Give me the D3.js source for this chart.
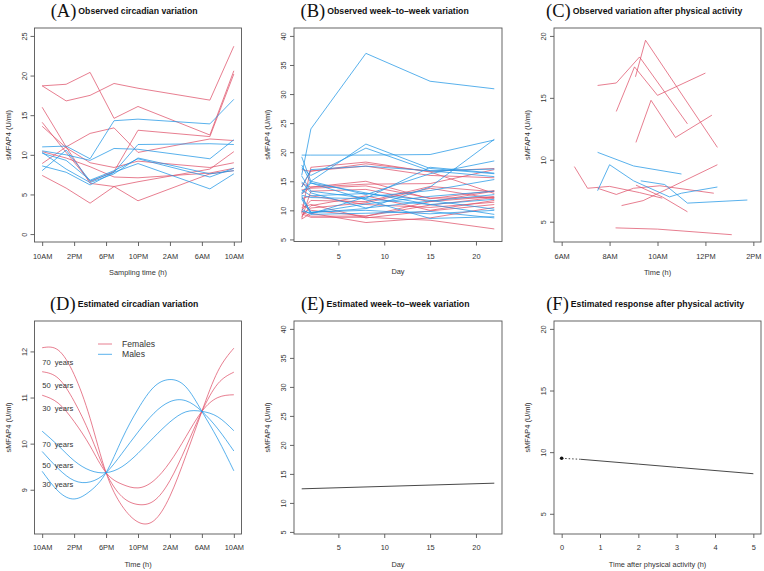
<!DOCTYPE html>
<html><head><meta charset="utf-8">
<script src="https://cdn.jsdelivr.net/npm/d3@7"></script>
<style>
body{margin:0;background:#fff}
text{font-family:"Liberation Sans",Arial,Helvetica,sans-serif}
</style></head><body>
<svg id="c" width="764" height="571" xmlns="http://www.w3.org/2000/svg"></svg>
<script>
// ---------------- DATA ----------------
const RED = "#DF536B", BLUE = "#2297E6";

// Panel A: observed circadian variation (hours after 10AM)
const aTimes = [0, 3, 6, 9, 12, 21, 24];
const aTickHours = [0, 4, 8, 12, 16, 20, 24];
const aTickLabels = ["10AM", "2PM", "6PM", "10PM", "2AM", "6AM", "10AM"];
const aFemales = [
  [18.7, 18.9, 20.4, 14.6, 16.1, 12.5, 20.6],
  [18.7, 16.8, 17.5, 19.0, 18.4, 16.9, 23.7],
  [16.0, 11.0, 6.4, 6.0, 6.6, 8.2, 10.4],
  [14.1, 10.3, 6.6, 7.9, 13.1, 12.3, 20.2],
  [13.6, 10.9, 9.0, 8.4, 9.2, 8.4, 9.0],
  [10.4, 9.6, 8.5, 7.2, 7.1, 7.7, 8.3],
  [8.9, 11.0, 12.7, 13.4, 10.3, 12.0, 11.8],
  [7.4, 5.8, 3.9, 6.0, 4.2, 7.6, 8.0]
];
const aMales = [
  [11.0, 11.1, 9.5, 14.3, 14.5, 13.9, 17.0],
  [10.5, 10.0, 9.3, 10.8, 10.7, 9.5, 11.9],
  [8.0, 10.6, 6.7, 7.8, 11.3, 11.4, 11.3],
  [10.2, 9.3, 6.8, 8.0, 9.5, 7.2, 8.3],
  [8.6, 7.8, 6.2, 7.8, 8.9, 5.7, 7.6],
  [10.3, 8.2, 6.5, 7.6, 9.6, 7.6, 8.0]
];

// Panel B: observed week-to-week variation
const bDays = [1, 2, 8, 15, 22];
const bFemales = [
  [9.5, 17.4, 18.3, 16.6, 12.9],
  [14.0, 16.8, 17.6, 16.0, 15.6],
  [12.8, 14.0, 15.0, 12.0, 13.4],
  [8.6, 13.3, 13.6, 11.5, 12.4],
  [9.4, 8.8, 8.8, 8.3, 6.8],
  [8.5, 9.5, 7.9, 8.7, 10.5],
  [11.0, 10.0, 9.0, 11.5, 13.3],
  [10.0, 11.7, 11.5, 14.1, 13.2],
  [13.5, 13.8, 14.2, 12.1, 12.2],
  [9.8, 9.0, 9.0, 10.9, 12.2],
  [12.0, 12.5, 11.0, 10.5, 11.4],
  [8.9, 10.8, 12.5, 10.0, 11.7],
  [17.0, 16.7, 18.0, 16.7, 17.2],
  [9.2, 10.4, 11.3, 13.8, 12.0],
  [10.5, 11.0, 8.7, 9.9, 11.0],
  [14.6, 14.0, 14.5, 14.6, 17.0]
];
const bMales = [
  [16.0, 24.0, 37.0, 32.2, 30.9],
  [19.5, 19.5, 19.5, 19.6, 22.1],
  [19.2, 15.0, 21.4, 17.2, 16.3],
  [17.3, 16.0, 20.7, 16.8, 15.8],
  [12.5, 9.6, 10.3, 14.0, 22.2],
  [14.0, 17.0, 17.6, 16.8, 17.1],
  [13.0, 15.0, 12.7, 16.3, 18.5],
  [12.8, 14.7, 11.8, 8.6, 8.9],
  [11.9, 9.4, 12.3, 13.4, 15.3],
  [12.2, 9.7, 10.0, 9.4, 10.0],
  [14.9, 13.0, 10.4, 11.6, 12.7],
  [10.2, 9.3, 9.5, 9.8, 8.7],
  [13.5, 12.5, 12.9, 11.7, 10.2],
  [17.8, 14.7, 13.0, 11.0, 9.3],
  [9.8, 9.6, 11.1, 12.4, 13.3],
  [15.9, 13.3, 12.1, 17.4, 16.4],
  [12.6, 12.2, 12.0, 11.0, 11.9]
];

// Panel C: observed variation after physical activity ([clock hour, value])
const cTickHours = [6, 8, 10, 12, 14];
const cTickLabels = ["6AM", "8AM", "10AM", "12PM", "2PM"];
const cFemales = [
  [[7.5, 16.0], [8.28, 16.2], [9.25, 18.3], [11.25, 12.9]],
  [[8.28, 13.9], [9.04, 17.5], [10.0, 15.2], [12.0, 17.0]],
  [[9.08, 16.7], [9.5, 19.65], [12.5, 11.0]],
  [[9.1, 11.4], [9.73, 14.8], [10.75, 11.8], [12.27, 13.6]],
  [[6.53, 9.45], [7.08, 7.7], [8.0, 7.85], [9.25, 7.35], [10.2, 6.9]],
  [[7.5, 7.7], [8.28, 7.2], [9.0, 7.7], [10.1, 7.9], [12.35, 7.3]],
  [[8.5, 6.3], [9.4, 6.7], [12.5, 9.6]],
  [[9.1, 7.95], [10.2, 7.0], [11.25, 5.8]],
  [[8.25, 4.5], [10.0, 4.4], [13.1, 3.95]]
];
const cMales = [
  [[7.5, 10.6], [9.0, 9.5], [11.0, 8.85]],
  [[7.5, 7.5], [8.0, 9.6], [9.0, 8.3], [10.5, 7.0], [11.0, 7.3], [12.5, 7.8]],
  [[9.3, 8.3], [10.3, 8.0], [11.25, 6.5], [13.75, 6.75]]
];

// Panel D: estimated circadian variation (hours after 10AM)
const dHours = [0, 2, 4, 6, 8, 10, 12, 14, 16, 18, 20, 22, 24];
const dFemale30 = [11.05, 10.88, 10.48, 9.95, 9.37, 9.12, 9.04, 9.2, 9.6, 10.15, 10.70, 11.0, 11.06];
const dFemale50 = [11.56, 11.42, 10.92, 10.2, 9.37, 8.85, 8.68, 8.76, 9.2, 9.92, 10.70, 11.3, 11.55];
const dFemale70 = [12.08, 12.03, 11.5, 10.55, 9.37, 8.65, 8.3, 8.33, 8.86, 9.74, 10.70, 11.57, 12.07];
const dMale30 = [9.40, 8.97, 8.80, 8.97, 9.37, 10.1, 10.75, 11.23, 11.39, 11.23, 10.70, 10.1, 9.41];
const dMale50 = [9.83, 9.46, 9.2, 9.17, 9.37, 9.79, 10.25, 10.66, 10.91, 10.93, 10.70, 10.32, 9.84];
const dMale70 = [10.27, 9.96, 9.63, 9.42, 9.37, 9.5, 9.79, 10.14, 10.47, 10.69, 10.70, 10.58, 10.28];
const dAgeLabels = ["70  years", "50  years", "30  years", "70  years", "50  years", "30  years"];
const dAgeLabelValues = [11.77, 11.27, 10.77, 9.99, 9.53, 9.12];
const dLegend = ["Females", "Males"];

// Panel E: estimated week-to-week variation
const eDays = [1, 22];
const eValues = [12.43, 13.4];

// Panel F: estimated response after physical activity
const fDot = [0, 9.5];
const fTimes = [0.5, 1, 2, 3, 4, 5];
const fValues = [9.42, 9.29, 9.03, 8.77, 8.51, 8.25];

// ---------------- DRAWING ----------------
const svg = d3.select("#c");
const ext = (a, b) => { const d = (b - a) * 0.04; return [a - d, b + d]; };
const FS = 7.4;
const LW = 0.75;

function panel(p) {
  const g = svg.append("g");
  const x = d3.scaleLinear().domain(p.xdom).range([p.left, p.left + p.w]);
  const y = d3.scaleLinear().domain(p.ydom).range([p.top + p.h, p.top]);
  const bottom = p.top + p.h;

  const xa = d3.axisBottom(x).tickValues(p.xticks).tickSize(4).tickSizeOuter(0)
    .tickFormat((d, i) => p.xlabels ? p.xlabels[i] : String(d));
  const gx = g.append("g").attr("transform", `translate(0,${bottom})`).call(xa);
  gx.select(".domain").remove();
  gx.selectAll("line").attr("stroke", "#555").attr("stroke-width", 0.9);
  gx.selectAll("text").attr("y", p.tickDy).attr("dy", 0)
    .attr("font-size", FS).attr("fill", "#333")
    .style("font-family", '"Liberation Sans",Arial,sans-serif');

  const ya = d3.axisLeft(y).tickValues(p.yticks).tickSize(4).tickSizeOuter(0).tickFormat(d => String(d));
  const gy = g.append("g").attr("transform", `translate(${p.left},0)`).call(ya);
  gy.select(".domain").remove();
  gy.selectAll("line").attr("stroke", "#555").attr("stroke-width", 0.9);
  gy.selectAll("text").attr("x", 0).attr("y", 0).attr("dy", 0)
    .attr("text-anchor", "middle")
    .attr("transform", "translate(-7.6,0) rotate(-90)")
    .attr("font-size", FS).attr("fill", "#333")
    .style("font-family", '"Liberation Sans",Arial,sans-serif');

  g.append("rect").attr("x", p.left).attr("y", p.top).attr("width", p.w).attr("height", p.h)
    .attr("fill", "none").attr("stroke", "#555").attr("stroke-width", 0.9);

  // axis titles
  g.append("text").attr("x", p.left + p.w / 2).attr("y", bottom + 32.7)
    .attr("text-anchor", "middle").attr("font-size", FS).attr("fill", "#333").text(p.xlab);
  g.append("text").attr("transform", `translate(${p.left - 24},${p.top + p.h / 2}) rotate(-90)`)
    .attr("text-anchor", "middle").attr("font-size", FS).attr("fill", "#333").text(p.ylab);

  // main title + letter
  const t = g.append("text").attr("x", p.left + p.w / 2).attr("y", p.top - 13.7)
    .attr("text-anchor", "middle").attr("font-size", 8.7).attr("font-weight", "bold")
    .attr("fill", "#111").text(p.title);
  const tw = t.node().getComputedTextLength();
  g.append("text").attr("x", p.left + p.w / 2 - tw / 2 - 2).attr("y", p.top - 11.3)
    .attr("text-anchor", "end").attr("font-size", 18.5).attr("fill", "#111")
    .style("font-family", '"Liberation Serif","Times New Roman",serif')
    .text(p.letter);

  return { g, x, y };
}

function drawLines(P, series, line, color) {
  series.forEach(s => P.g.append("path").attr("d", line(s)).attr("fill", "none")
    .attr("stroke", color).attr("stroke-width", LW));
}

const ylabel = "sMFAP4 (U/ml)";
const colX = [34.5, 294, 554], colW = [207, 208, 207];
const rowY = [28, 321], rowH = [214, 213];

// ---- A
{
  const P = panel({ left: colX[0], top: rowY[0], w: colW[0], h: rowH[0], xdom: ext(0, 24), ydom: ext(0, 25),
    xticks: aTickHours, xlabels: aTickLabels, yticks: [0, 5, 10, 15, 20, 25], tickDy: 17,
    xlab: "Sampling time (h)", ylab: ylabel, title: "Observed circadian variation", letter: "(A)" });
  const line = d3.line().x((d, i) => P.x(aTimes[i])).y(d => P.y(d));
  drawLines(P, aFemales, line, RED);
  drawLines(P, aMales, line, BLUE);
}
// ---- B
{
  const P = panel({ left: colX[1], top: rowY[0], w: colW[1], h: rowH[0] - 0.5, xdom: ext(1, 22), ydom: ext(6, 40),
    xticks: [5, 10, 15, 20], yticks: [5, 10, 15, 20, 25, 30, 35, 40], tickDy: 17,
    xlab: "Day", ylab: ylabel, title: "Observed week\u2013to\u2013week variation", letter: "(B)" });
  const line = d3.line().x((d, i) => P.x(bDays[i])).y(d => P.y(d));
  drawLines(P, bFemales, line, RED);
  drawLines(P, bMales, line, BLUE);
}
// ---- C
{
  const P = panel({ left: colX[2], top: rowY[0], w: colW[2], h: rowH[0], xdom: ext(6, 14), ydom: ext(4, 20),
    xticks: cTickHours, xlabels: cTickLabels, yticks: [5, 10, 15, 20], tickDy: 17,
    xlab: "Time (h)", ylab: ylabel, title: "Observed variation after physical activity", letter: "(C)" });
  const line = d3.line().x(d => P.x(d[0])).y(d => P.y(d[1]));
  drawLines(P, cFemales, line, RED);
  drawLines(P, cMales, line, BLUE);
}
// ---- D
{
  const P = panel({ left: colX[0], top: rowY[1], w: colW[0], h: rowH[1], xdom: ext(0, 24), ydom: [8.04, 12.66],
    xticks: aTickHours, xlabels: aTickLabels, yticks: [9, 10, 11, 12], tickDy: 16,
    xlab: "Time (h)", ylab: ylabel, title: "Estimated circadian variation", letter: "(D)" });
  const line = d3.line().curve(d3.curveNatural).x((d, i) => P.x(dHours[i])).y(d => P.y(d));
  drawLines(P, [dFemale30, dFemale50, dFemale70], line, RED);
  drawLines(P, [dMale30, dMale50, dMale70], line, BLUE);
  dAgeLabels.forEach((lab, i) => P.g.append("text").attr("x", P.x(0)).attr("y", P.y(dAgeLabelValues[i]) + 2.7)
    .attr("font-size", 7.6).attr("fill", "#333").style("white-space", "pre").text(lab));
  const lx = 98, ly = [344, 354.3];
  [RED, BLUE].forEach((c, i) => {
    P.g.append("line").attr("x1", lx).attr("x2", lx + 14).attr("y1", ly[i]).attr("y2", ly[i]).attr("stroke", c).attr("stroke-width", LW);
    P.g.append("text").attr("x", lx + 24).attr("y", ly[i] + 3).attr("font-size", 8.6).attr("fill", "#333").text(dLegend[i]);
  });
}
// ---- E
{
  const P = panel({ left: colX[1], top: rowY[1], w: colW[1], h: rowH[1], xdom: ext(1, 22), ydom: ext(6, 40),
    xticks: [5, 10, 15, 20], yticks: [5, 10, 15, 20, 25, 30, 35, 40], tickDy: 16,
    xlab: "Day", ylab: ylabel, title: "Estimated week\u2013to\u2013week variation", letter: "(E)" });
  const line = d3.line().x((d, i) => P.x(eDays[i])).y(d => P.y(d));
  P.g.append("path").attr("d", line(eValues)).attr("fill", "none").attr("stroke", "#333").attr("stroke-width", 0.9);
}
// ---- F
{
  const P = panel({ left: colX[2], top: rowY[1], w: colW[2], h: rowH[1], xdom: ext(0, 5), ydom: ext(4, 20),
    xticks: [0, 1, 2, 3, 4, 5], yticks: [5, 10, 15, 20], tickDy: 16,
    xlab: "Time after physical activity (h)", ylab: ylabel, title: "Estimated response after physical activity", letter: "(F)" });
  const line = d3.line().x((d, i) => P.x(fTimes[i])).y(d => P.y(d));
  P.g.append("path").attr("d", line(fValues)).attr("fill", "none").attr("stroke", "#333").attr("stroke-width", 0.9);
  P.g.append("line").attr("x1", P.x(fDot[0])).attr("y1", P.y(fDot[1])).attr("x2", P.x(fTimes[0])).attr("y2", P.y(fValues[0]))
    .attr("stroke", "#333").attr("stroke-width", 0.9).attr("stroke-dasharray", "1.5,2");
  P.g.append("circle").attr("cx", P.x(fDot[0])).attr("cy", P.y(fDot[1])).attr("r", 1.8).attr("fill", "#111");
}
</script></body></html>
